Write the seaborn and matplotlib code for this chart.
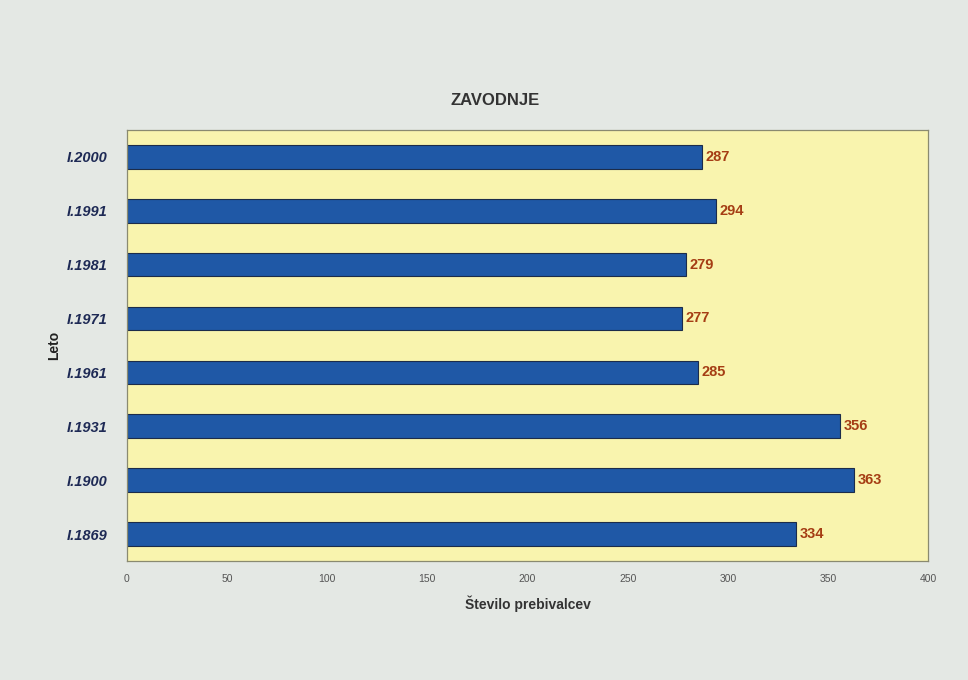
import pandas as pd
import matplotlib.pyplot as plt
import seaborn as sns

leta = ["I.2000", "I.1991", "I.1981", "I.1971", "I.1961", "I.1931", "I.1900", "I.1869"]
prebivalci = [287, 294, 279, 277, 285, 356, 363, 334]

df = pd.DataFrame({"leto": leta, "prebivalci": prebivalci})

sns.set_style("white")
plt.rcParams['font.family'] = ['Liberation Sans', 'DejaVu Sans']

fig = plt.figure(figsize=(9.68, 6.8), dpi=100, facecolor="#e4e8e4")
ax = fig.add_axes([0.131, 0.175, 0.828, 0.634])
ax.set_facecolor("#f9f4ae")

sns.barplot(data=df, x="prebivalci", y="leto", orient="h", color="#1f58a6",
            width=0.44, edgecolor="#1c2c4a", linewidth=0.8, saturation=1, ax=ax)

for i, v in enumerate(prebivalci):
    ax.text(v + 2, i, str(v), va="center", ha="left", fontsize=10.5,
            fontweight="bold", color="#a53d14")

ax.set_xlim(0, 400)
ax.set_ylim(7.5, -0.5)
ax.set_xticks(range(0, 401, 50))
ax.tick_params(axis="x", labelsize=7.5, colors="#555555", length=0, pad=9)
ax.tick_params(axis="y", length=0, pad=14)
for lab in ax.get_yticklabels():
    lab.set_fontstyle("italic")
    lab.set_fontweight("bold")
    lab.set_color("#1e2a55")
    lab.set_fontsize(10.5)

for s in ax.spines.values():
    s.set_color("#8a8a70")
    s.set_linewidth(0.9)

ax.set_xlabel("Število prebivalcev", fontsize=10, fontweight="bold", color="#333333", labelpad=9)
ax.set_ylabel("Leto", fontsize=10, fontweight="bold", color="#222222", labelpad=4)
fig.text(0.512, 0.852, "ZAVODNJE", ha="center", va="center", fontsize=12,
         fontweight="bold", color="#333333")

fig.savefig("out.png", dpi=100, facecolor=fig.get_facecolor())
